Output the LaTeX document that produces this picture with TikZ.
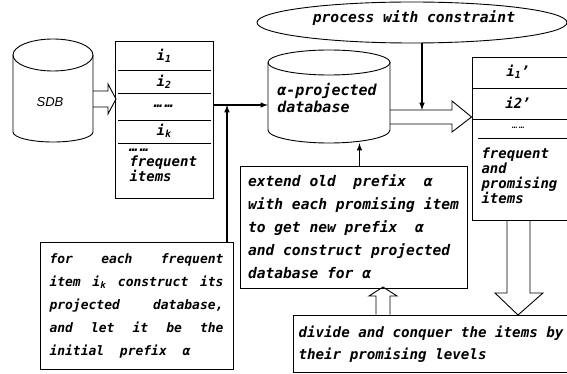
\documentclass[tikz,border=0pt]{standalone}
\usepackage{tikz}
\usepackage{xcolor}
\usepackage{fontspec}
\usetikzlibrary{shapes.geometric}
\newfontfamily\gothic{DejaVu Sans Mono}
\newfontfamily\sdbfont{Liberation Sans}
\newcommand{\gfont}[2]{\gothic\bfseries\itshape\fontsize{#1}{#2}\selectfont}
\newcommand{\fullline}[1]{\makebox[174pt][l]{#1}}

\begin{document}
\begin{tikzpicture}[x=1pt,y=-1pt,
    txt/.style={font=\gfont{14}{22}},
    box/.style={draw,line width=0.9pt,inner sep=0pt},
    hollow/.style={draw,line width=0.9pt},
    flow/.style={-latex,line width=1.5pt}]
    \useasboundingbox (0,0) rectangle (567,374);
    %%%%%%%%%%%%%%%%%%%%%%%%%%%%%%%%%% databases
    \node[minimum width=80pt,minimum height=103pt,inner sep=0pt] (sdb) at (53,90.5) {};
    \draw[line width=0.9pt] (13,55) -- (13,132) arc[start angle=180,end angle=0,x radius=40,y radius=10] -- (93,55);
    \draw[line width=0.9pt] (53,55) ellipse[x radius=40,y radius=16];
    \node[font=\sdbfont\itshape\fontsize{13}{13}\selectfont] (sdblabel) at (50,102) {SDB};
    \node[minimum width=122pt,minimum height=93pt,inner sep=0pt] (adb) at (329,96.5) {};
    \draw[line width=0.9pt] (268,62.5) -- (268,130) arc[start angle=180,end angle=0,x radius=61,y radius=13] -- (390,62.5);
    \draw[line width=0.9pt] (329,62.5) ellipse[x radius=61,y radius=12.5];
    \node[txt,align=left,font=\gfont{15}{17}] (adblabel) at (327,98) {α-projected\\database};
    %%%%%%%%%%%%%%%%%%%%%%%%%%%%%%%%%% frequent items
    \node[box,minimum width=98pt,minimum height=157pt] (items) at (164,119.5) {};
    \draw[line width=0.9pt] (118,70) -- (211,70);
    \draw[line width=0.9pt] (118,93) -- (211,93);
    \draw[line width=0.9pt] (118,120) -- (211,120);
    \draw[line width=0.9pt] (118,143) -- (211,143);
    \node[txt] (i1) at (164,56) {i\textsubscript{1}};
    \node[txt] (i2) at (164,82) {i\textsubscript{2}};
    \node[txt] (idots) at (164,106) {…\,…};
    \node[txt] (ik) at (164,131) {i\textsubscript{k}};
    \node[txt,anchor=west,align=left,font=\gfont{14}{15}] (freq) at (126,165) {…\,…\\frequent\\items};
    %%%%%%%%%%%%%%%%%%%%%%%%%%%%%%%%%% promising items
    \node[box,minimum width=103pt,minimum height=163pt] (prom) at (523.5,138.5) {};
    \draw[line width=0.9pt] (472,88) -- (575,88);
    \draw[line width=0.9pt] (472,119) -- (575,119);
    \draw[line width=0.9pt] (478,138) -- (575,138);
    \node[txt] (p1) at (518,72) {i\textsubscript{1}’};
    \node[txt] (p2) at (518,103) {i2’};
    \node[font=\gothic\fontsize{9}{9}\selectfont] (pdots) at (518,128) {…\,…};
    \node[txt,anchor=west,align=left,font=\gfont{14}{15}] (promtext) at (478,175.5) {frequent\\and\\promising\\items};
    %%%%%%%%%%%%%%%%%%%%%%%%%%%%%%%%%% constraint
    \node[draw,ellipse,line width=0.9pt,minimum width=310pt,minimum height=41pt,inner sep=0pt] (constr) at (412,22.5) {};
    \node[txt,font=\gfont{14.6}{15}] (constrtext) at (414,18) {process with constraint};
    %%%%%%%%%%%%%%%%%%%%%%%%%%%%%%%%%% text boxes
    \node[box,txt,align=left,minimum width=227pt,minimum height=122pt,font=\gfont{14.6}{23}] (extend) at (353.5,227)
        {extend old~ prefix~ α\\with each promising item\\to get new prefix~ α\\and construct projected\\database for α};
    \node[box,txt,align=left,minimum width=193pt,minimum height=127pt,font=\gfont{13}{23}] (init) at (136.5,305.5)
        {\fullline{for\hfill each\hfill frequent}\\
         \fullline{item\hfill i\textsubscript{k}\hfill construct\hfill its}\\
         \fullline{projected\hfill database,}\\
         \fullline{and\hfill let\hfill it\hfill be\hfill the}\\
         initial~ prefix~ α};
    \node[box,minimum width=282pt,minimum height=57pt] (divide) at (434,343.5) {};
    \node[txt,anchor=west,align=left,font=\gfont{14.2}{22}] (dividetext) at (295,344) {divide and conquer the items by\\their promising levels};
    %%%%%%%%%%%%%%%%%%%%%%%%%%%%%%%%%% connectors
    \coordinate (jn) at (227,105);
    \coordinate (cin) at (422,110);
    \draw[flow] (items.east |- jn) -- (adb.west |- jn);
    \draw[flow] (init.north -| jn) -- (jn);
    \draw[flow] (constr.south -| cin) -- (cin);
    \draw[flow] ([xshift=6pt]extend.north) -- ([xshift=6pt]extend.north |- adb.south);
    \draw[hollow] (sdb.east |- 0,91) -- (108,91) -- (108,84) -- (116,99) -- (108,114) -- (108,107) -- (sdb.east |- 0,107);
    \draw[hollow] (adb.east |- 0,110) -- (452,110) -- (452,101) -- (prom.west |- 0,117) -- (452,132) -- (452,124) -- (adb.east |- 0,124);
    \draw[hollow] (divide.north -| 376,0) -- (376,296) -- (369,296) -- (383,287) -- (397,296) -- (390,296) -- (divide.north -| 390,0);
    \draw[hollow] (prom.south -| 507,0) -- (507,293) -- (495,293) -- (518,315) -- (543,293) -- (530,293) -- (prom.south -| 530,0);
\end{tikzpicture}
\end{document}
